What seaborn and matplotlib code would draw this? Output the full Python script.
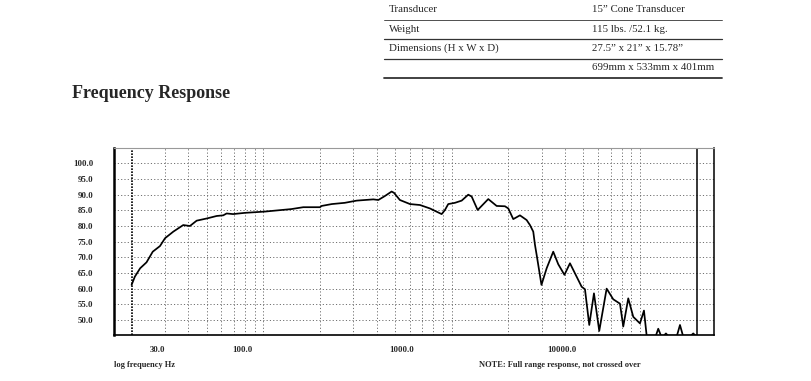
import numpy as np
import pandas as pd
import matplotlib
matplotlib.use("Agg")
import matplotlib.pyplot as plt
from matplotlib.lines import Line2D
from matplotlib.ticker import NullLocator, FixedLocator
import seaborn as sns

# ---------------- data ----------------
freq_hz = [20.0, 20.8, 22.2, 24.0, 25.9, 28.3, 30.1, 33.3, 37.6, 40.8, 44.3, 50.1, 56.6,
           61.3, 63.9, 69.1, 80.0, 102, 115, 141, 163, 200, 204, 231, 271, 313, 384, 408,
           443, 480, 494, 531, 601, 679, 767, 885, 921, 959, 1041, 1130, 1225, 1277, 1374,
           1564, 1733, 1918, 1998, 2123, 2304, 2500, 2604, 2711, 2768, 2827, 2997, 3193,
           3461, 3679, 3969, 4246, 4608, 4898, 5100, 5375, 5693, 6073, 6647, 7206, 7823,
           8144, 8657, 9203, 9989, 10490, 10840, 11570, 12140, 12490, 12910, 13390, 13720,
           14060, 15700, 16290, 16890, 18620, 19160, 19680]
spl_db = [61.2, 63.8, 66.5, 68.4, 71.8, 73.6, 76.1, 78.2, 80.3, 80.0, 81.7, 82.4, 83.2,
          83.4, 84.0, 83.8, 84.2, 84.6, 84.9, 85.4, 86.0, 86.0, 86.4, 87.0, 87.4, 88.1, 88.5, 88.3,
          89.6, 91.0, 90.6, 88.3, 87.0, 86.7, 85.6, 83.8, 85.1, 87.0, 87.4, 88.1, 90.0, 89.4, 85.1,
          88.6, 86.4, 86.3, 85.6, 82.2, 83.4, 81.9, 80.3, 78.2, 74.0, 70.7, 61.2, 66.5,
          71.8, 67.8, 64.4, 68.1, 63.8, 60.6, 59.8, 48.4, 58.5, 46.5, 60.0, 56.6, 55.2,
          47.9, 56.9, 51.0, 48.9, 53.0, 45.0, 45.0, 45.0, 47.2, 45.0, 45.0, 45.7,
          45.0, 45.0, 48.4, 45.0, 45.0, 45.7, 45.0]

y_ticks = [50, 55, 60, 65, 70, 75, 80, 85, 90, 95, 100]
grid_freqs = [30, 40, 50, 60, 70, 80, 90, 100, 200, 300, 400, 500, 600, 700, 800, 900,
              1000, 2000, 3000, 4000, 5000, 6000, 7000, 8000, 9000, 10000]
x_tick_labels = ["30.0", "100.0", "1000.0", "10000.0"]
band_limits_hz = [20, 20000]

table_rows = [("Transducer", "15\u201d Cone Transducer"),
              ("Weight", "115 lbs. /52.1 kg."),
              ("Dimensions (H x W x D)", "27.5\u201d x 21\u201d x 15.78\u201d"),
              ("", "699mm x 533mm x 401mm")]

df = pd.DataFrame({"freq": freq_hz, "spl": spl_db})

# ---------------- style ----------------
sns.set_style("white")
plt.rcParams["font.family"] = ["Liberation Serif", "DejaVu Serif"]

W, H = 812, 381
fig = plt.figure(figsize=(W / 100, H / 100), dpi=100)
ax = fig.add_axes([114 / W, 1 - 335 / H, 600 / W, 187 / H])

sns.lineplot(data=df, x="freq", y="spl", ax=ax, color="black", linewidth=1.25,
             sort=True, estimator=None)
ax.set_xscale("log")
ax.set_xlim(16.13, 24690)
ax.set_ylim(45.2, 104.9)

# grid
ax.xaxis.set_major_locator(FixedLocator(grid_freqs))
ax.xaxis.set_minor_locator(NullLocator())
ax.set_xticklabels([""] * len(grid_freqs))
ax.set_yticks(y_ticks)
ax.set_yticklabels([f"{v:.1f}" for v in y_ticks])
ax.grid(True, which="major", axis="both", color="#707070",
        linestyle=(0, (1.2, 2.2)), linewidth=0.7)
ax.tick_params(axis="x", which="major", length=3, width=1.0, color="#555555",
               direction="out", pad=2)
ax.tick_params(axis="y", which="major", length=4, width=0.6, color="#888888",
               direction="out", pad=11, labelsize=6.3)
for lab in ax.get_yticklabels():
    lab.set_fontweight("bold")

# band limit lines
ax.axvline(band_limits_hz[0], color="black", linewidth=1.2, linestyle=(0, (1, 0.8)))
ax.axvline(band_limits_hz[1], color="black", linewidth=1.1)

# spines
ax.spines["left"].set_linewidth(1.8)
ax.spines["left"].set_color("black")
ax.spines["bottom"].set_linewidth(1.2)
ax.spines["bottom"].set_color("black")
ax.spines["right"].set_linewidth(1.1)
ax.spines["right"].set_color("black")
ax.spines["top"].set_linewidth(0.8)
ax.spines["top"].set_color("#999999")
for s in ax.spines.values():
    s.set_visible(True)

ax.set_xlabel("")
ax.set_ylabel("")

# x tick labels as drawn on the sheet
label_fracs = [0.0733, 0.2145, 0.4795, 0.7462]
for frac, lab in zip(label_fracs, x_tick_labels):
    ax.text(frac, -0.08, lab, transform=ax.transAxes, ha="center", va="center",
            fontsize=6.3, fontweight="bold")

fig.text(114 / W, 1 - 365 / H, "log frequency Hz", ha="left", va="center",
         fontsize=6, fontweight="bold")
fig.text(479 / W, 1 - 365 / H, "NOTE: Full range response, not crossed over",
         ha="left", va="center", fontsize=6, fontweight="bold")

# title
fig.text(72 / W, 1 - 93 / H, "Frequency Response", ha="left", va="center",
         fontsize=13, fontweight="bold")

# spec table
row_y = [10, 29, 48.5, 68]
line_y = [19.5, 39, 58.5, 78]
line_w = [0.6, 0.9, 0.9, 1.3]
for (c1, c2), yy in zip(table_rows, row_y):
    fig.text(389 / W, 1 - yy / H, c1, ha="left", va="center", fontsize=7.8)
    fig.text(592 / W, 1 - yy / H, c2, ha="left", va="center", fontsize=7.8)
for yy, lw in zip(line_y, line_w):
    fig.add_artist(Line2D([384 / W, 722 / W], [1 - yy / H, 1 - yy / H],
                          transform=fig.transFigure, color="#333333", linewidth=lw))

fig.savefig("out.png", dpi=100)
